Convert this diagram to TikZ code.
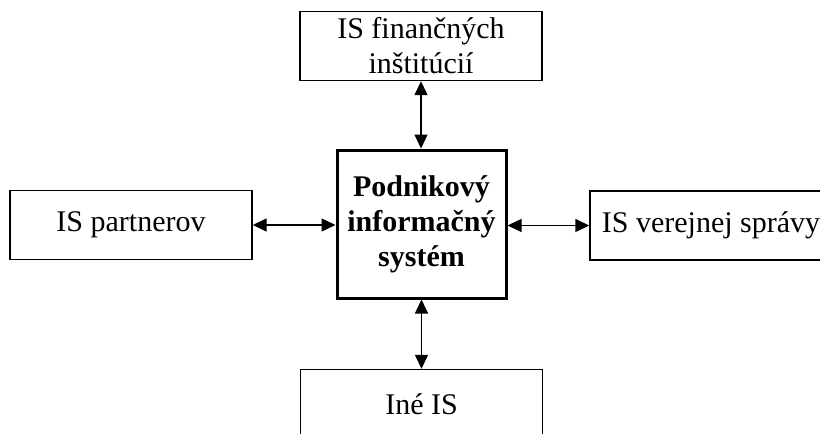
\documentclass[tikz,border=0pt]{standalone}
\usepackage{fontspec}
\setmainfont{Liberation Serif}
\usetikzlibrary{arrows.meta}
\begin{document}
\begin{tikzpicture}[x=1pt,y=-1pt,
  sysbox/.style={draw=black, line width=1.4pt, fill=white, inner sep=0pt,
    minimum width=242pt, minimum height=69pt, align=center,
    font=\fontsize{30}{35}\selectfont},
  corebox/.style={draw=black, line width=3pt, fill=white, inner sep=0pt,
    minimum width=169pt, minimum height=148pt, align=center,
    font=\fontsize{30}{35}\selectfont\bfseries},
  link/.style={line width=1.4pt, {Triangle[length=14pt,width=13pt]}-{Triangle[length=14pt,width=13pt]}}]
\useasboundingbox (0,0) rectangle (820,434);
\clip (0,0) rectangle (820,434);
% central system
\node[corebox] (core) at (421.5,224) {Podnikový\\informačný\\systém};
% surrounding systems
\node[sysbox] (fin) at (421,46) {IS finančných\\inštitúcií};
\node[sysbox] (part) at (131,225) {IS partnerov};
\node[sysbox] (pub) at (711,225.5) {IS verejnej správy};
\node[sysbox] (other) at (421.5,404) {Iné IS};
% two-way links
\draw[link] (fin.south) -- (fin.south |- core.north);
\draw[link] (part.east) -- (core.west |- part.east);
\draw[link] (core.east |- pub.west) -- (pub.west);
\draw[link] (core.south) -- (core.south |- other.north);
\end{tikzpicture}
\end{document}
